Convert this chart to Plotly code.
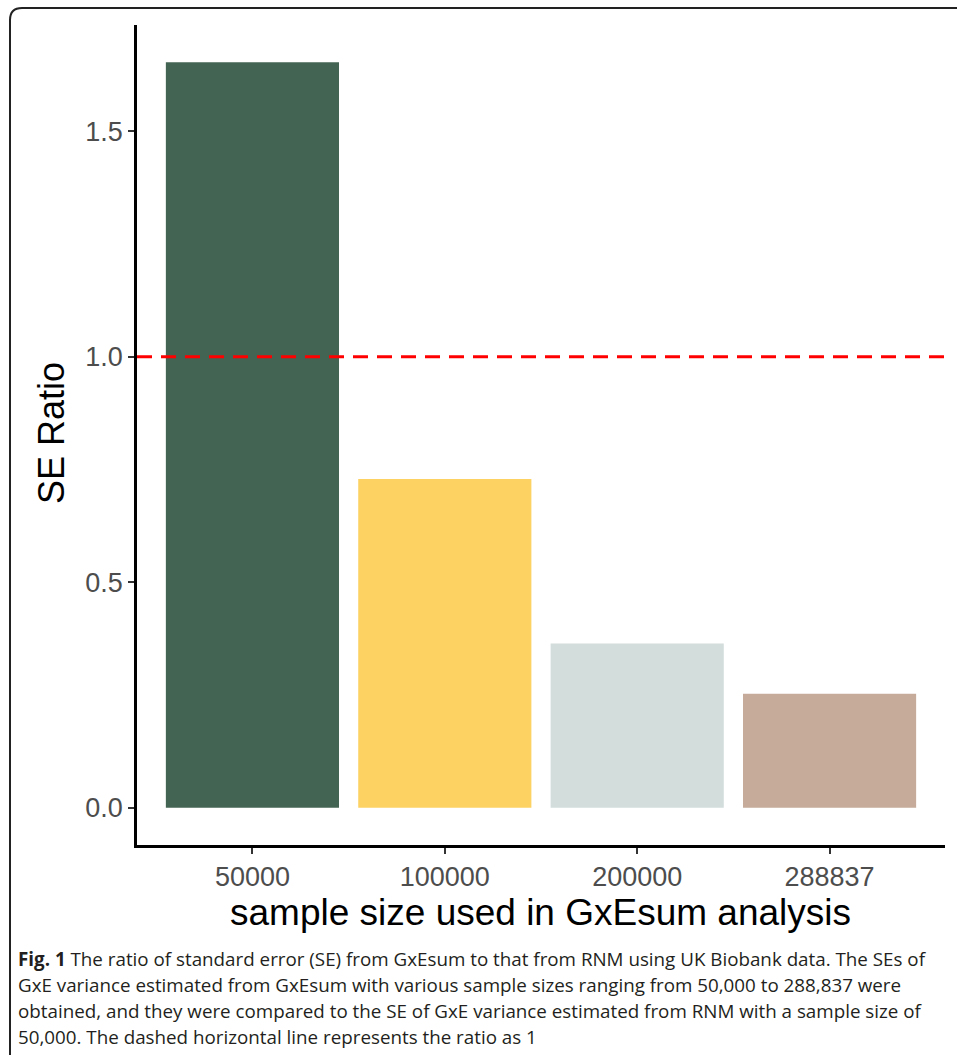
import plotly.graph_objects as go

categories = ["50000", "100000", "200000", "288837"]
se_ratio = [1.653, 0.729, 0.364, 0.253]
bar_colors = ["#446453", "#FDD262", "#D3DDDC", "#C6AB9A"]
y_ticks = [0.0, 0.5, 1.0, 1.5]
ref_line = 1.0

caption_lines = [
    "<b>Fig. 1</b> The ratio of standard error (SE) from GxEsum to that from RNM using UK Biobank data. The SEs of",
    "GxE variance estimated from GxEsum with various sample sizes ranging from 50,000 to 288,837 were",
    "obtained, and they were compared to the SE of GxE variance estimated from RNM with a sample size of",
    "50,000. The dashed horizontal line represents the ratio as 1",
]

W, H = 957, 1055
L, R, T, B = 137, 12, 25, 210
PW, PH = W - L - R, H - T - B


def px(x):
    return (x - L) / PW


def py(y):
    return (H - B - y) / PH


fig = go.Figure()
fig.add_trace(go.Bar(
    x=list(range(len(categories))), y=se_ratio, width=0.9,
    marker=dict(color=bar_colors, line=dict(width=0)),
    showlegend=False, hoverinfo="skip",
))

fig.add_shape(type="line", xref="paper", yref="y", x0=0, x1=1, y0=ref_line, y1=ref_line,
              line=dict(color="#FF0000", width=2.8, dash="15px,9px"))

ymax = max(se_ratio)
pad = 0.05 * ymax
fig.update_layout(
    width=W, height=H,
    margin=dict(l=L, r=R, t=T, b=B, autoexpand=False),
    paper_bgcolor="white", plot_bgcolor="white",
    bargap=0.1,
    font=dict(family="Liberation Sans, Arial, sans-serif"),
    xaxis=dict(
        range=[-0.6, len(categories) - 1 + 0.6],
        tickmode="array", tickvals=list(range(len(categories))), ticktext=categories,
        showline=True, linecolor="black", linewidth=2.5,
        ticks="outside", ticklen=6, tickwidth=2, tickcolor="#333333",
        tickfont=dict(size=27, color="#4D4D4D"),
        showgrid=False, zeroline=False,
    ),
    yaxis=dict(
        range=[-pad, ymax + pad],
        tickmode="array", tickvals=y_ticks, tickformat=".1f",
        showline=True, linecolor="black", linewidth=2.5,
        ticks="outside", ticklen=6, tickwidth=2, tickcolor="#333333",
        tickfont=dict(size=27, color="#4D4D4D"),
        showgrid=False, zeroline=False,
    ),
)

# axis titles
fig.add_annotation(text="SE Ratio", xref="paper", yref="paper", x=px(51), y=py(433),
                   textangle=-90, showarrow=False, font=dict(size=36, color="black"),
                   xanchor="center", yanchor="middle")
fig.add_annotation(text="sample size used in GxEsum analysis", xref="paper", yref="paper",
                   x=px(540), y=py(912), showarrow=False, font=dict(size=37, color="black"),
                   xanchor="center", yanchor="middle")

# caption
for i, line in enumerate(caption_lines):
    fig.add_annotation(text=line, xref="paper", yref="paper", x=px(16), y=py(959 + 26 * i),
                       showarrow=False, xanchor="left", yanchor="middle", align="left",
                       font=dict(size=18.8, color="#231F20", family="Open Sans, sans-serif"))

# rounded frame
r = 12
path = (f"M {px(10)},{py(1070)} L {px(10)},{py(8 + r)} "
        f"Q {px(10)},{py(8)} {px(10 + r)},{py(8)} L {px(975)},{py(8)}")
fig.add_shape(type="path", xref="paper", yref="paper", path=path,
              line=dict(color="#222222", width=2))

fig.write_html("out.html", config={"displayModeBar": False},
               post_script="document.body.style.margin='0';document.body.style.overflow='hidden';")
